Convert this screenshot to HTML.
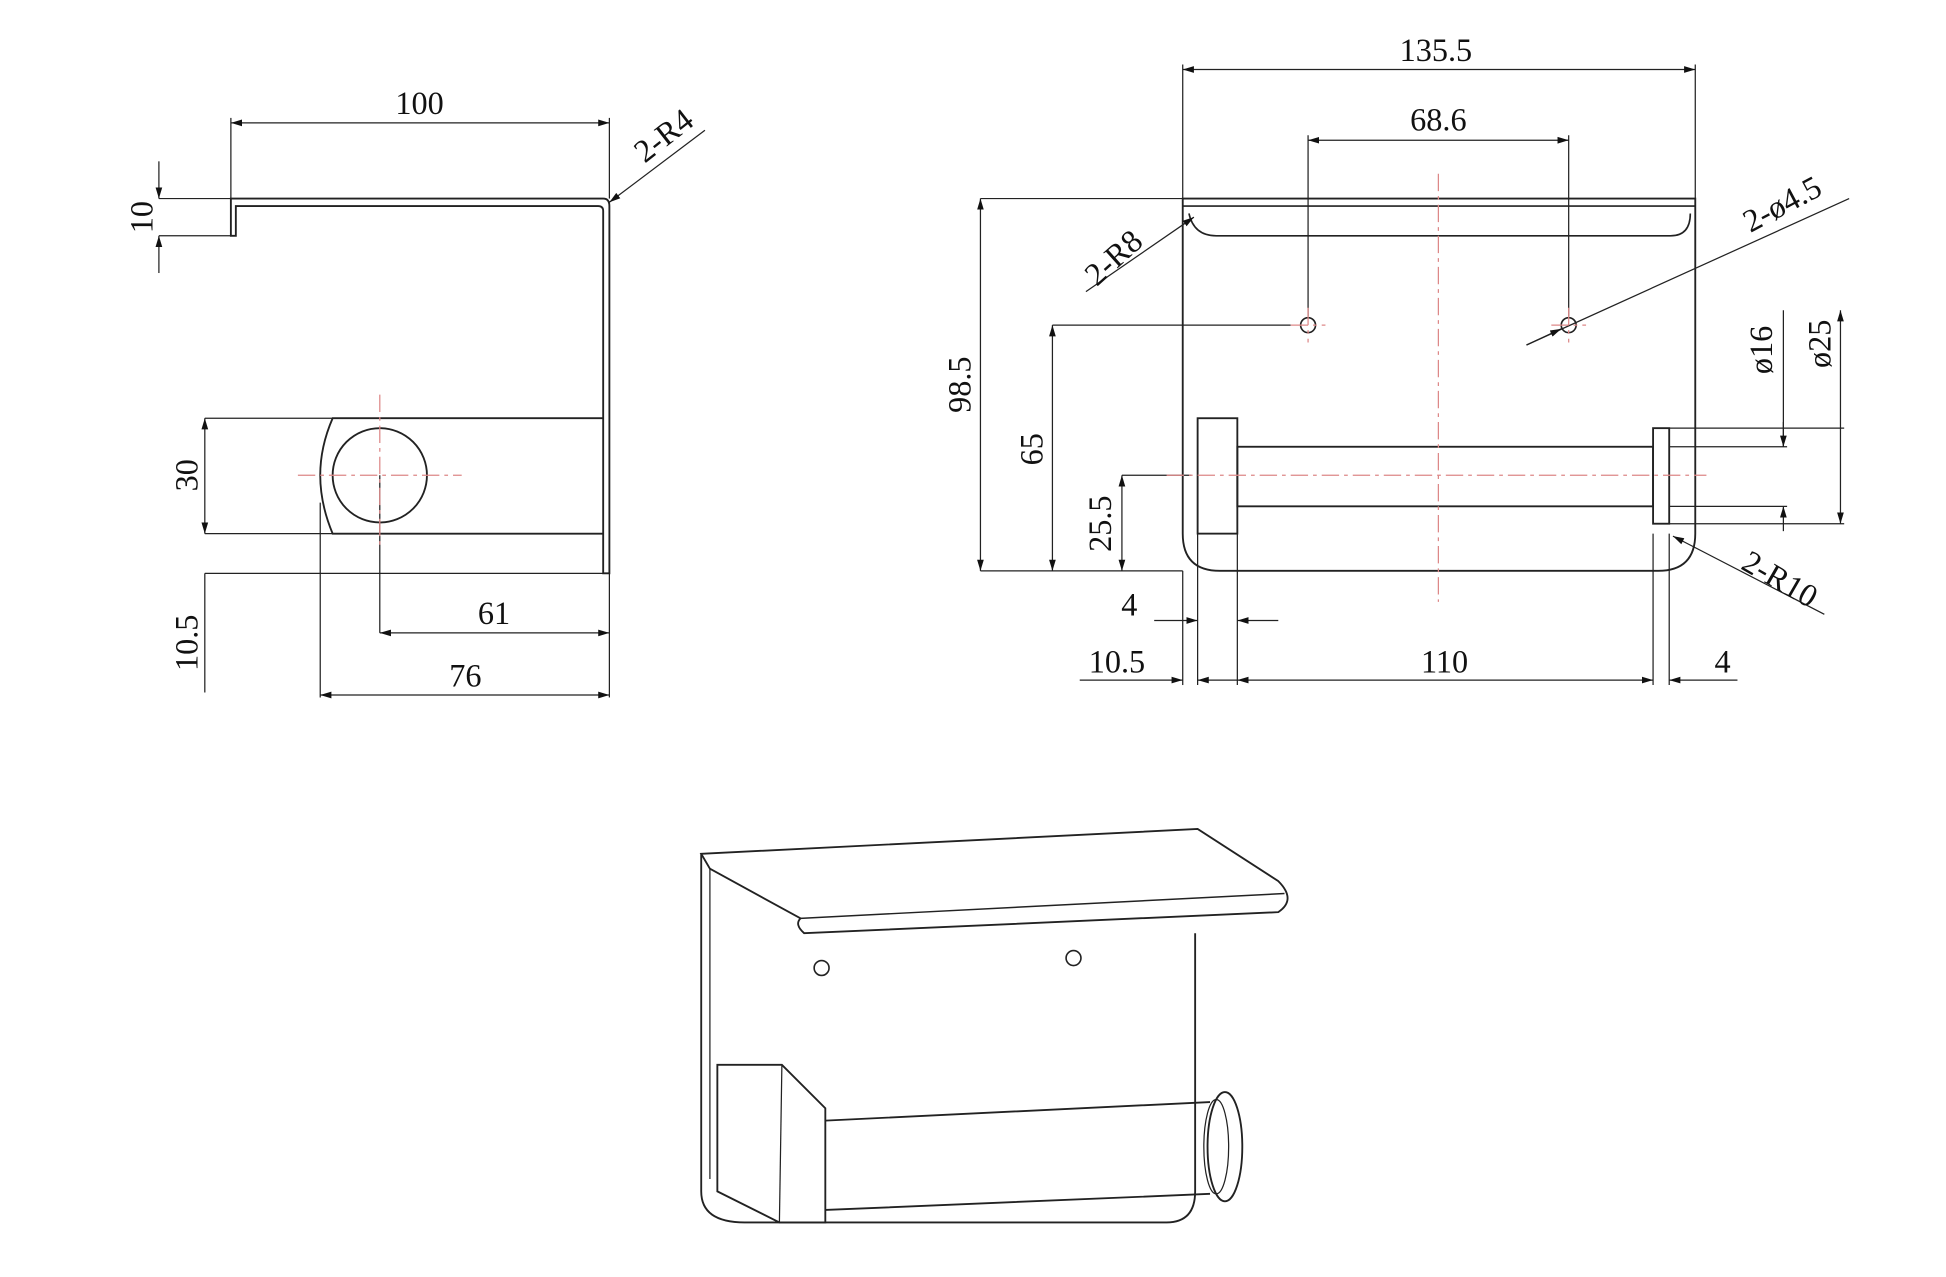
<!DOCTYPE html>
<html><head><meta charset="utf-8"><style>
html,body{margin:0;padding:0;background:#fff;}
svg{display:block;}
text{font-family:"Liberation Serif","DejaVu Serif",serif;font-size:26px;fill:#111;}
</style></head><body>
<svg width="1946" height="1277" viewBox="0 0 1568 1029" xmlns="http://www.w3.org/2000/svg">
<defs>
<marker id="a" viewBox="0 0 10 10" refX="10" refY="5" markerWidth="9" markerHeight="9" orient="auto-start-reverse" markerUnits="userSpaceOnUse"><path d="M0,2 L10,5 L0,8 z" fill="#111"/></marker>
</defs>
<g stroke="#222" stroke-width="1" fill="none">
<line x1="186" y1="99" x2="491" y2="99" marker-start="url(#a)" marker-end="url(#a)"/>
<line x1="186" y1="95" x2="186" y2="160"/><line x1="491" y1="95" x2="491" y2="160"/>
<path d="M186,190 V160 H486 Q491,160 491,166 V462 H486 V170 Q486,166 482,166 H190 V190 Z" stroke-width="1.5"/>
<line x1="128" y1="160" x2="186" y2="160"/><line x1="128" y1="190" x2="186" y2="190"/>
<line x1="128" y1="130" x2="128" y2="160" marker-end="url(#a)"/>
<line x1="128" y1="220" x2="128" y2="190" marker-end="url(#a)"/>
<line x1="568" y1="105" x2="491" y2="163" marker-end="url(#a)"/>
<path d="M486,337 H268 Q258,360 258,383 Q258,406 268,430 H486" stroke-width="1.5"/>
<circle cx="306" cy="383" r="38" stroke-width="1.5"/>
<line x1="258" y1="405" x2="258" y2="562"/>
<line x1="165" y1="337" x2="268" y2="337"/><line x1="165" y1="430" x2="268" y2="430"/>
<line x1="165" y1="337" x2="165" y2="430" marker-start="url(#a)" marker-end="url(#a)"/>
<line x1="165" y1="462" x2="491" y2="462"/>
<line x1="165" y1="462" x2="165" y2="558"/>
<line x1="306" y1="383" x2="306" y2="510"/>
<line x1="306" y1="510" x2="491" y2="510" marker-start="url(#a)" marker-end="url(#a)"/>
<line x1="491" y1="462" x2="491" y2="562"/>
<line x1="258" y1="560" x2="491" y2="560" marker-start="url(#a)" marker-end="url(#a)"/>
<line x1="953" y1="56" x2="1366" y2="56" marker-start="url(#a)" marker-end="url(#a)"/>
<line x1="953" y1="52" x2="953" y2="160"/><line x1="1366" y1="52" x2="1366" y2="160"/>
<line x1="1054" y1="113" x2="1264" y2="113" marker-start="url(#a)" marker-end="url(#a)"/>
<line x1="1054" y1="109" x2="1054" y2="255"/><line x1="1264" y1="109" x2="1264" y2="255"/>
<path d="M953,160 H1366 V430 Q1366,460 1336,460 H983 Q953,460 953,430 Z" stroke-width="1.5"/>
<path d="M953,166 H1366 M958,172 Q962,190 980,190 H1346 Q1362,190 1362,172" stroke-width="1.3"/>
<circle cx="1054" cy="262" r="6" stroke-width="1.3"/>
<circle cx="1264" cy="262" r="6" stroke-width="1.3"/>
<line x1="790" y1="160" x2="953" y2="160"/><line x1="790" y1="460" x2="953" y2="460"/>
<line x1="790" y1="160" x2="790" y2="460" marker-start="url(#a)" marker-end="url(#a)"/>
<line x1="848" y1="262" x2="1040" y2="262"/>
<line x1="848" y1="262" x2="848" y2="460" marker-start="url(#a)" marker-end="url(#a)"/>
<line x1="904" y1="383" x2="960" y2="383"/>
<line x1="904" y1="383" x2="904" y2="460" marker-start="url(#a)" marker-end="url(#a)"/>
<line x1="875" y1="235" x2="962" y2="175" marker-end="url(#a)"/>
<line x1="1490" y1="160" x2="1230" y2="278"/>
<line x1="1230" y1="278" x2="1258" y2="265" marker-end="url(#a)"/>
<rect x="965" y="337" width="32" height="93" stroke-width="1.5"/>
<rect x="997" y="360" width="335" height="48" stroke-width="1.5"/>
<rect x="1332" y="345" width="13" height="77" stroke-width="1.5"/>
<line x1="1345" y1="360" x2="1440" y2="360"/><line x1="1345" y1="408" x2="1440" y2="408"/>
<line x1="1437" y1="250" x2="1437" y2="360"/>
<line x1="1437" y1="340" x2="1437" y2="360" marker-end="url(#a)"/>
<line x1="1437" y1="428" x2="1437" y2="408" marker-end="url(#a)"/>
<line x1="1345" y1="345" x2="1486" y2="345"/><line x1="1345" y1="422" x2="1486" y2="422"/>
<line x1="1483" y1="250" x2="1483" y2="422" marker-start="url(#a)" marker-end="url(#a)"/>
<line x1="1470" y1="495" x2="1348" y2="432" marker-end="url(#a)"/>
<line x1="953" y1="460" x2="953" y2="552"/>
<line x1="965" y1="430" x2="965" y2="552"/>
<line x1="997" y1="430" x2="997" y2="552"/>
<line x1="1332" y1="430" x2="1332" y2="552"/>
<line x1="1345" y1="430" x2="1345" y2="552"/>
<line x1="930" y1="500" x2="965" y2="500" marker-end="url(#a)"/>
<line x1="1030" y1="500" x2="997" y2="500" marker-end="url(#a)"/>
<line x1="870" y1="548" x2="953" y2="548" marker-end="url(#a)"/>
<line x1="965" y1="548" x2="997" y2="548" marker-start="url(#a)"/>
<line x1="997" y1="548" x2="1332" y2="548" marker-start="url(#a)" marker-end="url(#a)"/>
<line x1="1400" y1="548" x2="1345" y2="548" marker-end="url(#a)"/>
<path d="M565,688 L965,668 L1030,710 Q1045,725 1030,735 L648,752 Q640,745 645,740 L572,700 Z" stroke-width="1.5"/>
<path d="M645,740 L1035,720" stroke-width="1.2"/>
<path d="M565,688 V960 Q565,985 600,985 H940 Q963,985 963,960 V752" stroke-width="1.5"/>
<path d="M572,700 V950" stroke-width="1"/>
<circle cx="662" cy="780" r="6" stroke-width="1.3"/>
<circle cx="865" cy="772" r="6" stroke-width="1.3"/>
<path d="M578,858 H630 L665,893 V985 H628 L578,960 Z" stroke-width="1.5"/>
<path d="M630,858 L628,985" stroke-width="1"/>
<path d="M665,903 L975,888 M665,975 L975,962" stroke-width="1.5"/>
<ellipse cx="987" cy="924" rx="14" ry="44" stroke-width="1.5"/>
<ellipse cx="980" cy="924" rx="10" ry="38" stroke-width="1"/>
</g>
<g stroke="#d88" stroke-width="1" stroke-dasharray="14,4,3,4" fill="none">
<line x1="240" y1="383" x2="372" y2="383"/>
<line x1="306" y1="318" x2="306" y2="440"/>
<line x1="1159" y1="140" x2="1159" y2="485"/>
<line x1="940" y1="383" x2="1375" y2="383"/>
<line x1="1040" y1="262" x2="1068" y2="262"/><line x1="1054" y1="248" x2="1054" y2="276"/>
<line x1="1250" y1="262" x2="1278" y2="262"/><line x1="1264" y1="248" x2="1264" y2="276"/>
</g>
<text x="338" y="92" text-anchor="middle">100</text>
<text transform="translate(123,175) rotate(-90)" text-anchor="middle">10</text>
<text transform="translate(540,116) rotate(-38)" text-anchor="middle">2-R4</text>
<text transform="translate(159,383) rotate(-90)" text-anchor="middle">30</text>
<text transform="translate(159,518) rotate(-90)" text-anchor="middle">10.5</text>
<text x="398" y="503" text-anchor="middle">61</text>
<text x="375" y="553" text-anchor="middle">76</text>
<text x="1157" y="49" text-anchor="middle">135.5</text>
<text x="1159" y="105" text-anchor="middle">68.6</text>
<text transform="translate(782,310) rotate(-90)" text-anchor="middle">98.5</text>
<text transform="translate(840,362) rotate(-90)" text-anchor="middle">65</text>
<text transform="translate(895,422) rotate(-90)" text-anchor="middle">25.5</text>
<text transform="translate(903,214) rotate(-42)" text-anchor="middle">2-R8</text>
<text transform="translate(1440,172) rotate(-28)" text-anchor="middle">2-ø4.5</text>
<text transform="translate(1428,282) rotate(-90)" text-anchor="middle">ø16</text>
<text transform="translate(1475,277) rotate(-90)" text-anchor="middle">ø25</text>
<text transform="translate(1430,474) rotate(30)" text-anchor="middle">2-R10</text>
<text x="910" y="496" text-anchor="middle">4</text>
<text x="900" y="542" text-anchor="middle">10.5</text>
<text x="1164" y="542" text-anchor="middle">110</text>
<text x="1388" y="542" text-anchor="middle">4</text>
</svg>
</body></html>
